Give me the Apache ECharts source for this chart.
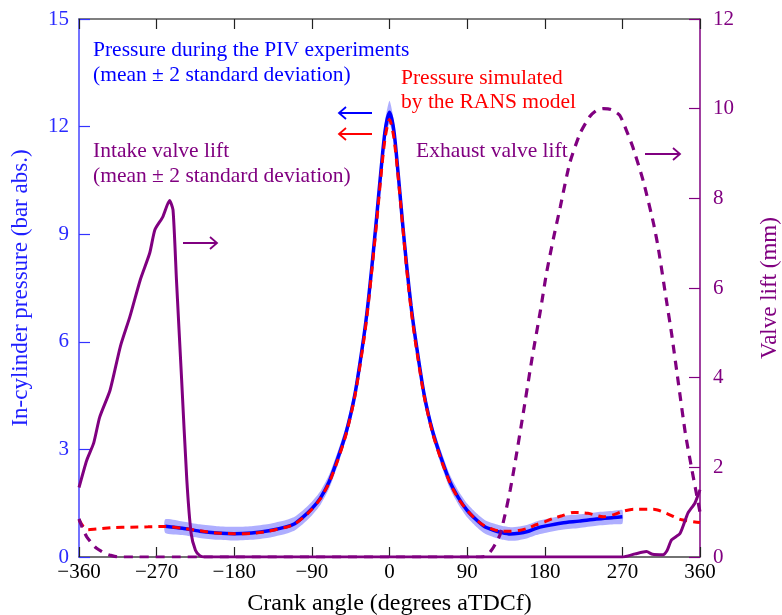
<!DOCTYPE html>
<html>
<head>
<meta charset="utf-8">
<script src="https://cdn.jsdelivr.net/npm/echarts@6/dist/echarts.min.js"></script>
<style>html,body{margin:0;padding:0;background:#fff}#c{width:782px;height:615px}</style>
</head>
<body>
<div id="c"></div>
<script>
// ---- data ----
const xTicks = [-360, -270, -180, -90, 0, 90, 180, 270, 360];
const pivAngle = [-260,-240,-220,-200,-180,-160,-140,-120,-110,-100,-90,-80,-70,-60,-50,-40,-30,-25,-20,-15,-10,-5,0,5,10,15,20,25,30,40,50,60,70,80,90,100,110,120,130,140,150,160,170,180,200,220,240,260,270];
const pivMean  = [0.86,0.80,0.72,0.67,0.65,0.67,0.73,0.84,0.93,1.12,1.35,1.65,2.10,2.75,3.50,4.55,6.10,7.05,8.20,9.45,10.75,11.90,12.40,11.90,10.70,9.35,8.10,7.00,6.10,4.55,3.50,2.75,2.10,1.65,1.30,1.05,0.85,0.75,0.68,0.64,0.66,0.71,0.80,0.86,0.95,1.00,1.06,1.10,1.12];
const pivSpread= [0.19,0.19,0.19,0.19,0.19,0.19,0.19,0.19,0.19,0.19,0.19,0.19,0.19,0.19,0.19,0.2,0.2,0.22,0.22,0.24,0.26,0.28,0.32,0.28,0.26,0.24,0.22,0.22,0.2,0.2,0.19,0.19,0.19,0.19,0.19,0.19,0.19,0.19,0.19,0.19,0.19,0.19,0.19,0.19,0.19,0.19,0.19,0.19,0.19];

const ransAngle = [-360,-355,-350,-340,-320,-300,-280,-260,-240,-220,-200,-180,-160,-140,-120,-110,-100,-90,-80,-70,-60,-50,-40,-30,-25,-20,-15,-10,-5,0,5,10,15,20,25,30,40,50,60,70,80,90,100,110,120,130,140,150,160,170,180,190,200,213,230,248,260,270,283,306,321,337,360];
const ransP     = [1.03,0.85,0.76,0.78,0.82,0.83,0.84,0.85,0.80,0.73,0.67,0.65,0.66,0.72,0.83,0.92,1.10,1.33,1.63,2.07,2.70,3.45,4.50,6.00,6.95,8.10,9.30,10.60,11.70,12.20,11.70,10.60,9.30,8.00,6.90,6.00,4.50,3.45,2.70,2.07,1.62,1.30,1.05,0.87,0.77,0.72,0.72,0.74,0.80,0.90,0.98,1.08,1.15,1.24,1.22,1.12,1.18,1.27,1.33,1.33,1.22,1.05,0.96];

const intakeAngle = [-360,-351,-343,-336,-324,-312,-301,-289,-278,-272,-263,-255,-251,-247,-241,-235,-230,-225,-220,-215,270,285,298,305,317,322,327,337,346,354,360];
const intakeLift  = [1.55,2.16,2.54,3.12,3.72,4.70,5.36,6.18,6.78,7.30,7.58,7.95,7.74,6.18,3.95,1.72,0.53,0.15,0.03,0,0,0.07,0.12,0.06,0.05,0.15,0.38,0.53,0.98,1.20,1.50];

const exhaustAngle = [-360,-355,-351,-345,-340,-330,-324,-315,105,110,114,120,128,134,140,146,155,165,175,182,190,198,209,221,232,240,248,257,267,275,282,294,306,312,321,327,335,343,350,356,360];
const exhaustLift  = [0.85,0.60,0.45,0.30,0.20,0.08,0.04,0,0,0.01,0.05,0.20,0.49,0.95,1.50,2.15,3.20,4.40,5.50,6.33,7.10,7.81,8.79,9.45,9.82,9.96,10.0,9.98,9.85,9.50,9.15,8.40,7.45,6.85,5.73,4.99,3.87,2.76,2.01,1.40,1.00];

// ---- chart ----
const SERIF = '"Liberation Serif","DejaVu Serif",serif';
const BLUE = '#0000ff', RED = '#ff0000', PURPLE = '#800080';
const zip = (a, b) => a.map((v, i) => [v, b[i]]);
const minusFmt = v => v < 0 ? '\u2212' + Math.abs(v) : String(v);

function arrow(x1, x2, y, color, dir) {
  const tip = dir < 0 ? x1 : x2;
  const h = dir < 0 ? 7 : -7;
  return {
    type: 'group', children: [
      { type: 'line', shape: { x1: x1, y1: y, x2: x2, y2: y }, style: { stroke: color, lineWidth: 2 } },
      { type: 'polyline', shape: { points: [[tip + h, y - 6], [tip, y], [tip + h, y + 6]] }, style: { stroke: color, lineWidth: 1.8, fill: null } }
    ]
  };
}
function label(text, x, y, color) {
  return { type: 'text', x: x, y: y, style: { text: text, fill: color, font: '21.5px ' + SERIF, textAlign: 'left', textVerticalAlign: 'middle', verticalAlign: 'middle' } };
}

const chart = echarts.init(document.getElementById('c'), null, { renderer: 'canvas' });
chart.setOption({
  animation: false,
  backgroundColor: '#fff',
  grid: { left: 79, right: 82, top: 19, bottom: 58, containLabel: false, outerBoundsMode: 'none' },
  xAxis: [{
    type: 'value', min: -360, max: 360, interval: 90, position: 'bottom',
    name: 'Crank angle (degrees aTDCf)', nameLocation: 'middle', nameGap: 35,
    nameTextStyle: { color: '#000', fontFamily: SERIF, fontSize: 24 },
    axisLine: { onZero: false, lineStyle: { color: '#444', width: 1.5 } },
    axisTick: { inside: true, length: 10, lineStyle: { color: '#222', width: 1.2 } },
    axisLabel: { color: '#000', fontFamily: SERIF, fontSize: 21, margin: 5, formatter: minusFmt },
    splitLine: { show: false }
  }, {
    type: 'value', min: -360, max: 360, interval: 90, position: 'top',
    axisLine: { onZero: false, lineStyle: { color: '#555', width: 1.5 } },
    axisTick: { inside: true, length: 10, lineStyle: { color: '#222', width: 1.2 } },
    axisLabel: { show: false }, splitLine: { show: false }
  }],
  yAxis: [{
    type: 'value', min: 0, max: 15, interval: 3, position: 'left',
    name: 'In-cylinder pressure (bar abs.)', nameLocation: 'middle', nameGap: 47, nameRotate: 90,
    nameTextStyle: { color: '#2020ff', fontFamily: SERIF, fontSize: 23 },
    axisLine: { show: true, onZero: false, lineStyle: { color: '#4444ff', width: 1.5 } },
    axisTick: { show: true, inside: true, length: 11, lineStyle: { color: '#3333ff', width: 1.2 } },
    axisLabel: { color: '#2a2aff', fontFamily: SERIF, fontSize: 21, margin: 10 },
    splitLine: { show: false }
  }, {
    type: 'value', min: 0, max: 12, interval: 2, position: 'right',
    name: 'Valve lift (mm)', nameLocation: 'middle', nameGap: 58, nameRotate: 90,
    nameTextStyle: { color: PURPLE, fontFamily: SERIF, fontSize: 23 },
    axisLine: { show: true, onZero: false, lineStyle: { color: PURPLE, width: 1.5 } },
    axisTick: { show: true, inside: true, length: 11, lineStyle: { color: PURPLE, width: 1.2 } },
    axisLabel: { color: PURPLE, fontFamily: SERIF, fontSize: 21, margin: 13 },
    splitLine: { show: false }
  }],
  series: [{
    type: 'custom', name: 'PIV band', xAxisIndex: 0, yAxisIndex: 0, z: 2, silent: true,
    data: pivAngle.map((a, i) => [a, pivMean[i] - pivSpread[i], pivMean[i] + pivSpread[i]]),
    encode: { x: 0, y: [1, 2] },
    renderItem: function (params, api) {
      if (params.dataIndex !== 0) return null;
      const pts = [];
      for (let i = 0; i < pivAngle.length; i++) pts.push(api.coord([pivAngle[i], pivMean[i] + pivSpread[i]]));
      for (let i = pivAngle.length - 1; i >= 0; i--) pts.push(api.coord([pivAngle[i], pivMean[i] - pivSpread[i]]));
      return { type: 'polygon', shape: { points: pts, smooth: 0.2 }, style: { fill: '#aeaeff' } };
    }
  }, {
    type: 'line', name: 'PIV mean', xAxisIndex: 0, yAxisIndex: 0, z: 3,
    data: zip(pivAngle, pivMean), showSymbol: false, smooth: 0.25,
    lineStyle: { color: BLUE, width: 3.5 }
  }, {
    type: 'line', name: 'RANS', xAxisIndex: 0, yAxisIndex: 0, z: 4,
    data: zip(ransAngle, ransP), showSymbol: false, smooth: 0.25,
    lineStyle: { color: RED, width: 3, type: [8, 6] }
  }, {
    type: 'line', name: 'Intake', xAxisIndex: 0, yAxisIndex: 1, z: 5,
    data: zip(intakeAngle, intakeLift), showSymbol: false, smooth: 0.2,
    lineStyle: { color: PURPLE, width: 3 }
  }, {
    type: 'line', name: 'Exhaust', xAxisIndex: 0, yAxisIndex: 1, z: 5,
    data: zip(exhaustAngle, exhaustLift), showSymbol: false, smooth: 0.2,
    lineStyle: { color: PURPLE, width: 3.2, type: [9, 7] }
  }],
  graphic: [
    label('Pressure during the PIV experiments', 93, 50, BLUE),
    label('(mean \u00b1 2 standard deviation)', 93, 75, BLUE),
    label('Intake valve lift', 93, 151, PURPLE),
    label('(mean \u00b1 2 standard deviation)', 93, 176, PURPLE),
    label('Pressure simulated', 401, 78, RED),
    label('by the RANS model', 401, 102, RED),
    label('Exhaust valve lift', 416, 151, PURPLE),
    arrow(339, 372, 113, BLUE, -1),
    arrow(339, 372, 134, RED, -1),
    arrow(183, 217, 243, PURPLE, 1),
    arrow(645, 680, 154, PURPLE, 1)
  ]
});
</script>
</body>
</html>
